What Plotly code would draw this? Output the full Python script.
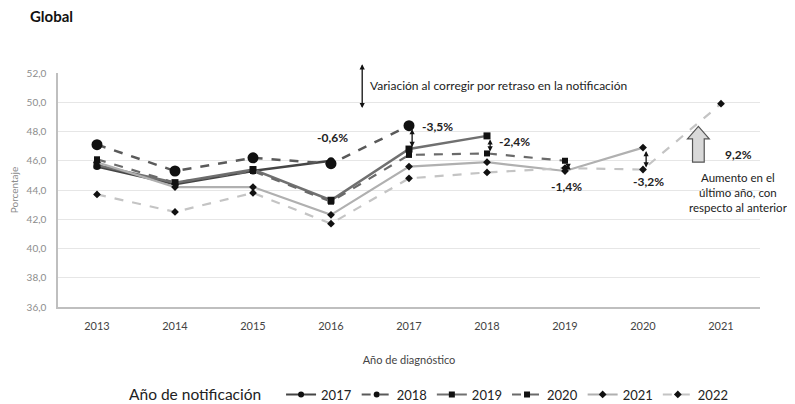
import plotly.graph_objects as go

# años de diagnóstico
years = [2013, 2014, 2015, 2016, 2017, 2018, 2019, 2020, 2021]

# porcentaje por año de notificación
n2017 = [45.6, 44.4, 45.3, 46.0]
n2018 = [47.1, 45.3, 46.2, 45.8, 48.4]
n2019 = [45.7, 44.5, 45.4, 43.3, 46.8, 47.7]
n2020 = [46.1, 44.5, 45.3, 43.2, 46.4, 46.5, 46.0]
n2021 = [45.9, 44.2, 44.2, 42.3, 45.6, 45.9, 45.3, 46.9]
n2022 = [43.7, 42.5, 43.8, 41.7, 44.8, 45.2, 45.5, 45.4, 49.9]

# variación al corregir (año, etiqueta, valor alto, valor bajo)
var_years = [2016, 2017, 2018, 2019, 2020]
var_labels = ['-0,6%', '-3,5%', '-2,4%', '-1,4%', '-3,2%']
var_top = [None, 48.4, 47.7, 46.0, 46.9]
var_bottom = [None, 46.8, 46.5, 45.3, 45.4]

styles = {
    '2017': dict(data=n2017, color='#454545', dash='solid', symbol='circle', size=7, width=2.5),
    '2018': dict(data=n2018, color='#5a5a5a', dash='dash', symbol='circle', size=11, width=2.5),
    '2019': dict(data=n2019, color='#707070', dash='solid', symbol='square', size=7, width=2.5),
    '2020': dict(data=n2020, color='#6a6a6a', dash='dash', symbol='square', size=6, width=2.2),
    '2021': dict(data=n2021, color='#b0b0b0', dash='solid', symbol='diamond', size=6, width=2.2),
    '2022': dict(data=n2022, color='#c4c4c4', dash='dash', symbol='diamond', size=6, width=2.2),
}

fig = go.Figure()
for name, s in styles.items():
    fig.add_trace(go.Scatter(
        x=years[:len(s['data'])], y=s['data'], name=name, mode='lines+markers',
        line=dict(color=s['color'], dash=s['dash'], width=s['width']),
        marker=dict(symbol=s['symbol'], size=s['size'], color='#111111'),
        showlegend=False,
    ))
    # entrada de leyenda con marcador pequeño
    fig.add_trace(go.Scatter(
        x=[None], y=[None], name=name, mode='lines+markers',
        line=dict(color=s['color'], dash=s['dash'], width=2),
        marker=dict(symbol=s['symbol'], size=6, color='#111111'),
    ))

# flechas y etiquetas de variación
label_pos = {
    '-0,6%': (2016.02, 47.6), '-3,5%': (2017.37, 48.35), '-2,4%': (2018.35, 47.35),
    '-1,4%': (2019.02, 44.25), '-3,2%': (2020.07, 44.55),
}
for yr, lab, top, bot in zip(var_years, var_labels, var_top, var_bottom):
    lx, ly = label_pos[lab]
    fig.add_annotation(x=lx, y=ly, text='<b>' + lab + '</b>', showarrow=False,
                       font=dict(size=12, color='#222222'))
    if top is not None:
        fig.add_annotation(x=yr + 0.04, y=bot, ax=yr + 0.04, ay=top, axref='x', ayref='y',
                           text='', showarrow=True, arrowhead=2, arrowside='end+start',
                           arrowsize=0.8, arrowwidth=1.3, arrowcolor='#111111',
                           standoff=2, startstandoff=2)

# leyenda de la flecha
fig.add_annotation(x=2016.4, y=49.6, ax=2016.4, ay=52.7, axref='x', ayref='y',
                   text='', showarrow=True, arrowhead=2, arrowside='end+start',
                   arrowsize=0.8, arrowwidth=1.3, arrowcolor='#111111')
fig.add_annotation(x=2016.48, y=51.15, text='Variación al corregir por retraso en la notificación',
                   showarrow=False, xanchor='left', font=dict(size=12, color='#222222'))

# flecha hueca de aumento
ax0, sw, hw, yb, yn, yt = 2020.71, 0.075, 0.14, 45.9, 47.5, 48.35
fig.add_shape(type='path', xref='x', yref='y',
              path=f'M {ax0-sw},{yb} L {ax0+sw},{yb} L {ax0+sw},{yn} L {ax0+hw},{yn} '
                   f'L {ax0},{yt} L {ax0-hw},{yn} L {ax0-sw},{yn} Z',
              fillcolor='#d9d9d9', line=dict(color='#555555', width=1.2))
fig.add_annotation(x=2021.22, y=46.45, text='<b>9,2%</b>', showarrow=False,
                   font=dict(size=12, color='#222222'))
fig.add_annotation(x=2021.22, y=43.85, text='Aumento en el<br>último año, con<br>respecto al anterior',
                   showarrow=False, font=dict(size=11.5, color='#222222'))

# la página añade 8 px de margen al cuerpo: la figura se reduce en consecuencia
fig.update_layout(
    width=787, height=396,
    margin=dict(l=50, r=35, t=65, b=97, autoexpand=False),
    paper_bgcolor='white', plot_bgcolor='white',
    font=dict(family='Lato, Open Sans, sans-serif', color='#333333'),
    title=dict(text='<b>Global</b>', x=22 / 787, xref='container', xanchor='left',
               y=1 - 9 / 396, yanchor='middle', font=dict(size=15, color='#111111')),
    legend=dict(orientation='h', x=0.53, xanchor='center', y=-0.376, yanchor='middle',
                title=dict(text='Año de notificación   ', side='left',
                           font=dict(size=15.5, family='Lato', color='#222222')),
                font=dict(size=13, family='Lato', color='#222222'),
                itemwidth=30, tracegroupgap=0),
    showlegend=True,
)
fig.update_xaxes(range=[2012.5, 2021.5], tickvals=years, showgrid=False,
                 showline=True, linecolor='#bfbfbf', linewidth=1.5, ticks='',
                 ticklabelstandoff=8,
                 tickfont=dict(size=11, color='#444444'),
                 title=dict(text='Año de diagnóstico', font=dict(size=11, color='#444444'),
                            standoff=25))
fig.update_yaxes(range=[36, 52], dtick=2, tickformat='.1f',
                 showgrid=True, gridcolor='#e6e6e6', showline=True, linecolor='#bfbfbf',
                 linewidth=1.5, zeroline=False, ticks='', ticklabelstandoff=8,
                 automargin=False,
                 tickfont=dict(size=10, color='#8c8c8c'),
                 title=dict(text='Porcentaje', font=dict(size=10, color='#8c8c8c'), standoff=10))
fig.update_layout(separators=',.')

fig.write_html('out.html')
